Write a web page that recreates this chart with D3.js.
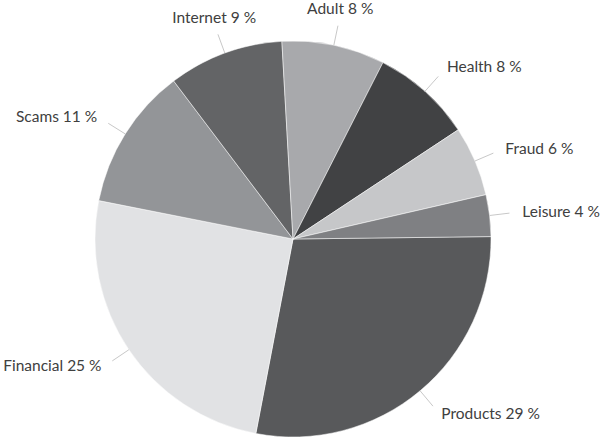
<!DOCTYPE html>
<html>
<head>
<meta charset="utf-8">
<script src="https://cdn.jsdelivr.net/npm/d3@7"></script>
<style>
  body { margin: 0; background: #fff; }
  text { font-family: Lato, "Open Sans", sans-serif; font-size: 15.5px; fill: #404040; }
</style>
</head>
<body>
<div id="chart"></div>
<script>
// categories, clockwise from 3 o'clock
const categories = ["Products", "Financial", "Scams", "Internet", "Adult", "Health", "Fraud", "Leisure"];
// slice sizes
const values = [28.2, 25.1, 11.6, 9.4, 8.4, 8.2, 5.7, 3.4];
// percentages printed in the labels
const labelPct = [29, 25, 11, 9, 8, 8, 6, 4];
const colors = ["#58595b", "#e1e2e4", "#939598", "#636466", "#a8a9ac", "#414244", "#c6c7c9", "#7f8083"];

const width = 602, height = 439;
const cx = 293, cy = 239, radius = 198;

const svg = d3.select("#chart")
    .append("svg")
    .attr("width", width)
    .attr("height", height)
    .append("g")
    .attr("transform", `translate(${cx},${cy})`);

const data = categories.map((c, i) => ({ name: c, value: values[i], pct: labelPct[i], color: colors[i] }));

const start = 89.3 * Math.PI / 180;
const pie = d3.pie()
    .sort(null)
    .value(d => d.value)
    .startAngle(start)
    .endAngle(start + 2 * Math.PI);

const arc = d3.arc().innerRadius(0).outerRadius(radius);
const arcs = pie(data);

svg.selectAll(".slice")
    .data(arcs)
    .join("path")
    .attr("class", "slice")
    .attr("d", arc)
    .attr("fill", d => d.data.color)
    .attr("stroke", "#fff")
    .attr("stroke-width", 0.5);

// connector lines + labels
const pt = (a, r) => [Math.sin(a) * r, -Math.cos(a) * r];

arcs.forEach(d => {
    const a = (d.startAngle + d.endAngle) / 2;
    const p0 = pt(a, radius);
    const p1 = pt(a, radius + 20);
    svg.append("line")
        .attr("x1", p0[0]).attr("y1", p0[1])
        .attr("x2", p1[0]).attr("y2", p1[1])
        .attr("stroke", "#c8c8c8")
        .attr("stroke-width", 1);

    const s = Math.sin(a);
    const label = svg.append("text").text(`${d.data.name} ${d.data.pct} %`);
    if (Math.abs(s) > 0.45) {
        const p2 = pt(a, radius + 33);
        label.attr("x", p2[0]).attr("y", p2[1] - (Math.cos(a) < -0.5 ? 3 : 0))
            .attr("dy", "0.36em")
            .attr("text-anchor", s > 0 ? "start" : "end");
    } else {
        const p2 = pt(a, radius + 31);
        label.attr("x", p2[0]).attr("y", p2[1] - 1)
            .attr("text-anchor", "middle");
    }
});
</script>
</body>
</html>
